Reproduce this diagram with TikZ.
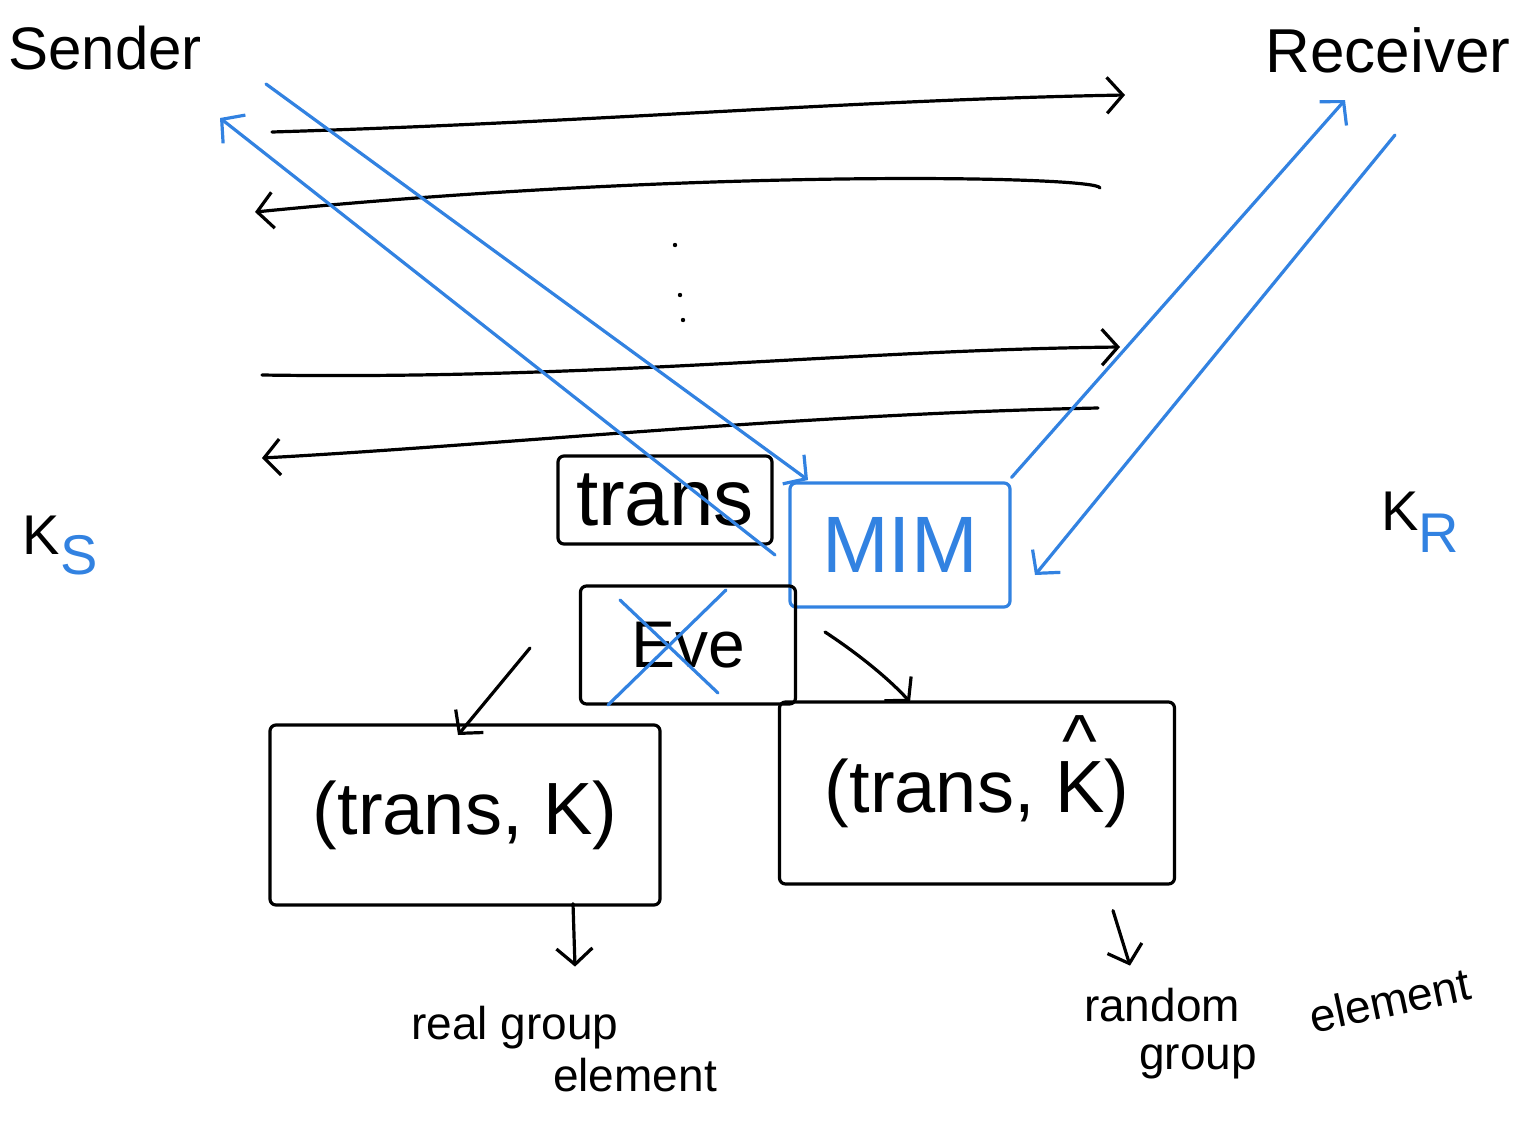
\documentclass[tikz,border=0pt]{standalone}
\usepackage{fontspec}
\setmainfont{Liberation Sans}
\usetikzlibrary{arrows.meta,calc}
\definecolor{handblue}{RGB}{50,130,225}
\newcommand{\fsz}[1]{\fontsize{#1}{#1}\selectfont}
\begin{document}
\begin{tikzpicture}[x=1pt,y=-1pt,
  pen/.style={line width=3.2pt, line cap=round, line join=round},
  barb/.style={-{Straight Barb[length=16pt,width=36pt,line width=3.2pt]}},
  hbox/.style={draw, pen, rounded corners=6pt, inner sep=0pt},
  bluepen/.style={pen, draw=handblue}
]
\useasboundingbox (0,0) rectangle (1521,1120);

% parties
\node[font=\fsz{60}] (sender) at (105,48) {Sender};
\node[font=\fsz{62}] (receiver) at (1388,50) {Receiver};
\node[font=\fsz{56}] (ks) at (60,545) {K\raisebox{-20pt}{\color{handblue}S}};
\node[font=\fsz{56}] (kr) at (1420,522) {K\raisebox{-22pt}{\color{handblue}R}};

% message coordinates
\coordinate (m1s) at (272,132); \coordinate (m1e) at (1125,95);
\coordinate (m2s) at (1100,188); \coordinate (m2e) at (255,212);
\coordinate (m3s) at (262,375); \coordinate (m3e) at (1120,347);
\coordinate (m4s) at (1098,408); \coordinate (m4e) at (262,458);

\draw[pen,barb] (m1s) .. controls (600,122) and (850,100) .. (m1e);
\draw[pen,barb] (m2s) .. controls (1100,176) and (700,168) .. (m2e);
\draw[pen,barb] (m3s) .. controls (600,380) and (850,350) .. (m3e);
\draw[pen,barb] (m4s) .. controls (800,414) and (500,445) .. (m4e);

% vertical dots
\fill (675,245) circle (2.2pt);
\fill (680,295) circle (2.2pt);
\fill (683,320) circle (2.2pt);

% boxes
\node[hbox, minimum width=214, minimum height=88, font=\fsz{80}] (trans) at (665,500) {trans};
\node[hbox, draw=handblue, text=handblue, minimum width=220, minimum height=124, font=\fsz{80}] (mim) at (900,545) {MIM};
\node[hbox, minimum width=215, minimum height=118, font=\fsz{66}] (eve) at (688,645) {Eve};
\draw[bluepen] (620,600) -- (718,693);
\draw[bluepen] (726,590) -- (608,705);

\node[hbox, minimum width=390, minimum height=180, font=\fsz{74}] (pairK) at (465,815) {(trans, K)};
\node[hbox, minimum width=395, minimum height=182, font=\fsz{74}] (pairKh) at (977,793)
  {(trans, \ooalign{K\cr\hidewidth\raisebox{0.62em}{\textasciicircum}\hidewidth\cr})};

% blue MIM arrows
\coordinate (sendTip) at (220,118);
\coordinate (aStart) at (775,555);
\coordinate (bStart) at (266,84);
\coordinate (recvTip) at (1345,100);
\coordinate (dStart) at (1395,135);
\coordinate (mimIn) at (808,480);
\coordinate (mimR) at (1035,575);
\draw[bluepen,barb] (aStart) -- (sendTip);
\draw[bluepen,barb] (bStart) -- (mimIn);
\draw[bluepen,barb] (mim.north east) ++(0,-4) -- (recvTip);
\draw[bluepen,barb] (dStart) -- (mimR);

% black arrows to pairs
\coordinate (eveOut) at (530,648);
\coordinate (pairKIn) at (458,735);
\coordinate (mimOut) at (825,632);
\coordinate (pairKhIn) at (910,702);
\draw[pen,barb] (eveOut) -- (pairKIn);
\draw[pen,barb] (mimOut) .. controls (860,655) and (890,680) .. (pairKhIn);

% outputs
\node[font=\fsz{46}] (real) at (515,1028) {real group};
\node[font=\fsz{46}] (elem1) at (635,1075) {element};
\node[font=\fsz{46}] (rand) at (1162,1005) {random};
\node[font=\fsz{46}] (group2) at (1198,1062) {group};
\node[font=\fsz{46}, rotate=12] (elem2) at (1390,1000) {element};

\draw[pen,barb] ($(pairK.south)+(108,-3)$) -- ($(pairK.south)+(110,60)$);
\draw[pen,barb] ($(pairKh.south)+(136,25)$) -- ($(pairKh.south)+(153,80)$);
\end{tikzpicture}
\end{document}
